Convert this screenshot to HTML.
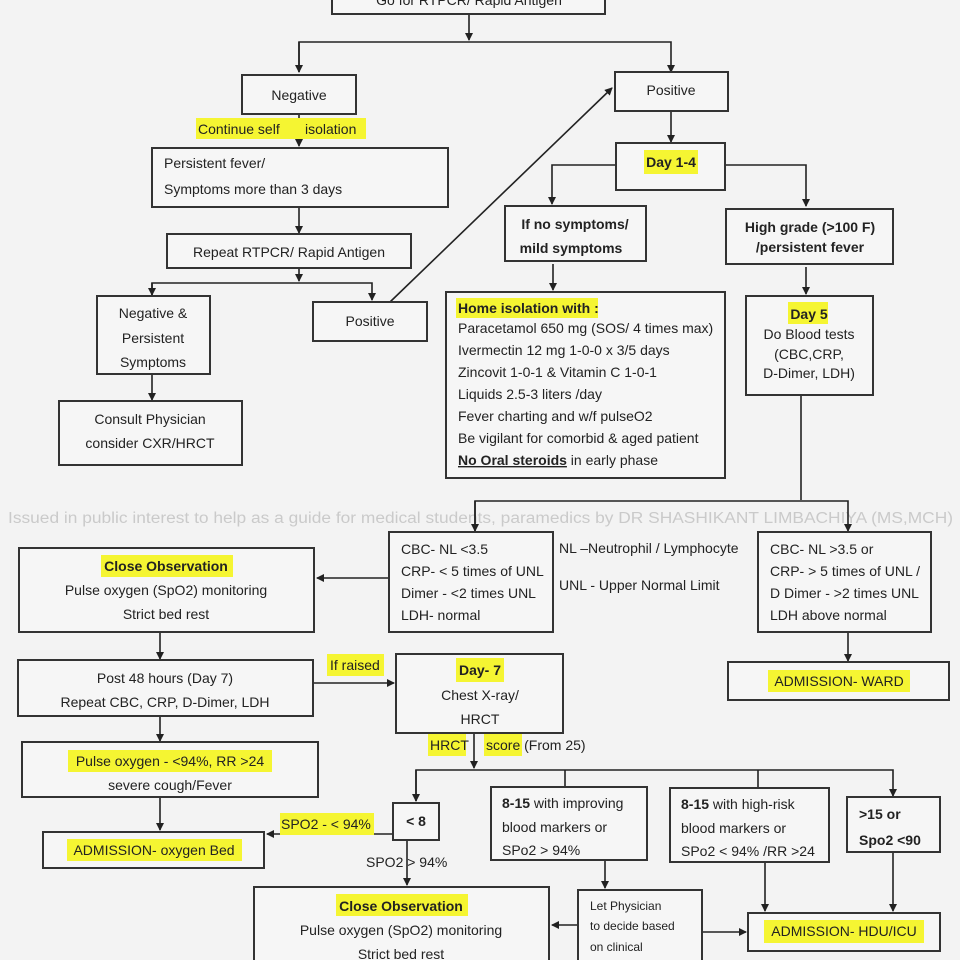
<!DOCTYPE html>
<html><head><meta charset="utf-8"><style>
html,body{margin:0;padding:0;background:#f3f3f3;}
svg{display:block;}
text{font-family:"Liberation Sans Narrow","Liberation Sans",sans-serif;font-size:14px;fill:#222;}
.b{font-weight:bold;}
rect.bx{fill:#f6f6f6;stroke:#333;stroke-width:2;}
rect.hl{fill:#f5f532;stroke:none;}
line,polyline{stroke:#222;stroke-width:1.6;fill:none;}
</style></head><body>
<svg width="960" height="960" viewBox="0 0 960 960" xmlns="http://www.w3.org/2000/svg">
<defs><marker id="a" markerWidth="8" markerHeight="8" refX="7" refY="4" orient="auto" markerUnits="userSpaceOnUse"><path d="M0,0 L8,4 L0,8 z" fill="#222"/></marker></defs>
<rect width="960" height="960" fill="#f3f3f3"/>
<text x="8" y="523" textLength="945" lengthAdjust="spacingAndGlyphs" style="font-size:15.5px;fill:#cacaca">Issued in public interest to help as a guide for medical students, paramedics by DR SHASHIKANT LIMBACHIYA (MS,MCH)</text>

<!-- connectors -->
<line x1="469" y1="14" x2="469" y2="40" marker-end="url(#a)"/>
<polyline points="299,72 299,42 671,42 671,72" marker-end="url(#a)"/>
<line x1="299" y1="42" x2="299" y2="72" marker-end="url(#a)"/>
<line x1="299" y1="114" x2="299" y2="146" marker-end="url(#a)"/>
<line x1="299" y1="207" x2="299" y2="233" marker-end="url(#a)"/>
<line x1="299" y1="268" x2="299" y2="281" marker-end="url(#a)"/>
<polyline points="152,295 152,283 372,283 372,300" marker-end="url(#a)"/>
<line x1="152" y1="283" x2="152" y2="295" marker-end="url(#a)"/>
<line x1="152" y1="374" x2="152" y2="400" marker-end="url(#a)"/>
<line x1="390" y1="302" x2="612" y2="88" marker-end="url(#a)"/>
<line x1="671" y1="111" x2="671" y2="142" marker-end="url(#a)"/>
<polyline points="616,165 552,165 552,204" marker-end="url(#a)"/>
<polyline points="725,165 806,165 806,206" marker-end="url(#a)"/>
<line x1="553" y1="264" x2="553" y2="290" marker-end="url(#a)"/>
<line x1="806" y1="267" x2="806" y2="294" marker-end="url(#a)"/>
<line x1="801" y1="395" x2="801" y2="500"/>
<polyline points="475,531 475,501 848,501 848,531" marker-end="url(#a)"/>
<line x1="475" y1="501" x2="475" y2="531" marker-end="url(#a)"/>
<line x1="848" y1="632" x2="848" y2="661" marker-end="url(#a)"/>
<line x1="389" y1="578" x2="317" y2="578" marker-end="url(#a)"/>
<line x1="160" y1="632" x2="160" y2="659" marker-end="url(#a)"/>
<line x1="313" y1="683" x2="394" y2="683" marker-end="url(#a)"/>
<line x1="160" y1="716" x2="160" y2="741" marker-end="url(#a)"/>
<line x1="474" y1="733" x2="474" y2="768" marker-end="url(#a)"/>
<polyline points="416,801 416,770 893,770 893,796" marker-end="url(#a)"/>
<line x1="416" y1="770" x2="416" y2="801" marker-end="url(#a)"/>
<line x1="565" y1="770" x2="565" y2="787"/>
<line x1="758" y1="770" x2="758" y2="788"/>
<line x1="160" y1="797" x2="160" y2="830" marker-end="url(#a)"/>
<line x1="393" y1="834" x2="267" y2="834" marker-end="url(#a)"/>
<line x1="407" y1="840" x2="407" y2="885" marker-end="url(#a)"/>
<line x1="605" y1="860" x2="605" y2="888" marker-end="url(#a)"/>
<line x1="578" y1="925" x2="552" y2="925" marker-end="url(#a)"/>
<line x1="702" y1="932" x2="746" y2="932" marker-end="url(#a)"/>
<line x1="765" y1="862" x2="765" y2="911" marker-end="url(#a)"/>
<line x1="893" y1="852" x2="893" y2="911" marker-end="url(#a)"/>

<!-- boxes -->
<rect class="bx" x="332" y="-10" width="273" height="24"/>
<text x="469" y="5" text-anchor="middle">Go for RTPCR/ Rapid Antigen</text>
<rect class="bx" x="242" y="75" width="114" height="39"/>
<text x="299" y="100" text-anchor="middle">Negative</text>
<rect class="hl" x="196" y="118" width="170" height="21"/>
<text x="198" y="134">Continue self</text><text x="305" y="134">isolation</text>
<rect class="bx" x="152" y="148" width="296" height="59"/>
<text x="164" y="168">Persistent fever/</text>
<text x="164" y="194">Symptoms more than 3 days</text>
<rect class="bx" x="167" y="234" width="244" height="34"/>
<text x="289" y="257" text-anchor="middle">Repeat RTPCR/ Rapid Antigen</text>
<rect class="bx" x="97" y="296" width="113" height="78"/>
<text x="153" y="318" text-anchor="middle">Negative &amp;</text>
<text x="153" y="343" text-anchor="middle">Persistent</text>
<text x="153" y="367" text-anchor="middle">Symptoms</text>
<rect class="bx" x="59" y="401" width="183" height="64"/>
<text x="150" y="424" text-anchor="middle">Consult Physician</text>
<text x="150" y="448" text-anchor="middle">consider CXR/HRCT</text>
<rect class="bx" x="313" y="302" width="114" height="39"/>
<text x="370" y="326" text-anchor="middle">Positive</text>
<rect class="bx" x="615" y="72" width="113" height="39"/>
<text x="671" y="95" text-anchor="middle">Positive</text>
<rect class="bx" x="616" y="143" width="109" height="47"/>
<rect class="hl" x="644" y="150" width="54" height="24"/>
<text x="671" y="167" text-anchor="middle" class="b">Day 1-4</text>
<rect class="bx" x="505" y="206" width="141" height="55"/>
<text x="575" y="229" text-anchor="middle" class="b">If no symptoms/</text>
<text x="571" y="253" text-anchor="middle" class="b">mild symptoms</text>
<rect class="bx" x="726" y="209" width="167" height="55"/>
<text x="810" y="232" text-anchor="middle" class="b">High grade (&gt;100 F)</text>
<text x="810" y="252" text-anchor="middle" class="b">/persistent fever</text>
<rect class="bx" x="446" y="292" width="279" height="186"/>
<rect class="hl" x="456" y="298" width="142" height="20"/>
<text x="458" y="313" class="b">Home isolation with :</text>
<text x="458" y="333">Paracetamol 650 mg (SOS/ 4 times max)</text>
<text x="458" y="355">Ivermectin 12 mg 1-0-0 x 3/5 days</text>
<text x="458" y="377">Zincovit 1-0-1 &amp; Vitamin C 1-0-1</text>
<text x="458" y="399">Liquids 2.5-3 liters /day</text>
<text x="458" y="421">Fever charting and w/f  pulseO2</text>
<text x="458" y="443">Be vigilant for comorbid &amp; aged patient</text>
<text x="458" y="465"><tspan class="b" text-decoration="underline">No Oral steroids</tspan> in early phase</text>
<rect class="bx" x="746" y="296" width="127" height="99"/>
<rect class="hl" x="788" y="302" width="40" height="22"/>
<text x="809" y="319" text-anchor="middle" class="b">Day 5</text>
<text x="809" y="339" text-anchor="middle">Do Blood tests</text>
<text x="809" y="359" text-anchor="middle">(CBC,CRP,</text>
<text x="809" y="378" text-anchor="middle">D-Dimer, LDH)</text>

<rect class="bx" x="389" y="532" width="164" height="100"/>
<text x="401" y="554">CBC-  NL &lt;3.5</text>
<text x="401" y="576">CRP- &lt; 5 times of UNL</text>
<text x="401" y="598">Dimer - &lt;2 times UNL</text>
<text x="401" y="620">LDH- normal</text>
<text x="559" y="553">NL –Neutrophil / Lymphocyte</text>
<text x="559" y="590">UNL - Upper Normal Limit</text>
<rect class="bx" x="758" y="532" width="173" height="100"/>
<text x="770" y="554">CBC- NL &gt;3.5 or</text>
<text x="770" y="576">CRP- &gt; 5 times of UNL /</text>
<text x="770" y="598">D Dimer - &gt;2 times UNL</text>
<text x="770" y="620">LDH above normal</text>
<rect class="bx" x="728" y="662" width="221" height="38"/>
<rect class="hl" x="768" y="670" width="142" height="22"/>
<text x="839" y="686" text-anchor="middle">ADMISSION- WARD</text>

<rect class="bx" x="19" y="548" width="295" height="84"/>
<rect class="hl" x="101" y="555" width="132" height="22"/>
<text x="166" y="571" text-anchor="middle" class="b">Close Observation</text>
<text x="166" y="595" text-anchor="middle">Pulse oxygen (SpO2) monitoring</text>
<text x="166" y="619" text-anchor="middle">Strict bed rest</text>
<rect class="bx" x="18" y="660" width="295" height="56"/>
<text x="165" y="683" text-anchor="middle">Post 48 hours (Day 7)</text>
<text x="165" y="707" text-anchor="middle">Repeat CBC, CRP, D-Dimer, LDH</text>
<rect class="hl" x="327" y="654" width="57" height="22"/>
<text x="330" y="670">If raised</text>
<rect class="bx" x="396" y="654" width="167" height="79"/>
<rect class="hl" x="456" y="658" width="48" height="24"/>
<text x="480" y="675" text-anchor="middle" class="b">Day- 7</text>
<text x="480" y="700" text-anchor="middle">Chest X-ray/</text>
<text x="480" y="724" text-anchor="middle">HRCT</text>
<rect class="hl" x="428" y="734" width="38" height="22"/>
<rect class="hl" x="484" y="734" width="38" height="22"/>
<text x="430" y="750">HRCT</text><text x="486" y="750">score (From 25)</text>

<rect class="bx" x="22" y="742" width="296" height="55"/>
<rect class="hl" x="68" y="750" width="204" height="22"/>
<text x="170" y="766" text-anchor="middle">Pulse oxygen - &lt;94%, RR &gt;24</text>
<text x="170" y="790" text-anchor="middle">severe cough/Fever</text>
<rect class="bx" x="43" y="832" width="221" height="36"/>
<rect class="hl" x="67" y="839" width="175" height="22"/>
<text x="154" y="855" text-anchor="middle">ADMISSION- oxygen Bed</text>
<rect class="hl" x="280" y="813" width="94" height="22"/>
<text x="281" y="829">SPO2 - &lt; 94%</text>
<text x="366" y="867">SPO2  &gt; 94%</text>
<rect class="bx" x="393" y="803" width="46" height="37"/>
<text x="416" y="826" text-anchor="middle" class="b">&lt; 8</text>
<rect class="bx" x="491" y="787" width="156" height="73"/>
<text x="502" y="808"><tspan class="b">8-15</tspan> with improving</text>
<text x="502" y="832">blood markers or</text>
<text x="502" y="855">SPo2 &gt; 94%</text>
<rect class="bx" x="670" y="788" width="159" height="74"/>
<text x="681" y="809"><tspan class="b">8-15</tspan> with high-risk</text>
<text x="681" y="833">blood markers or</text>
<text x="681" y="856">SPo2 &lt; 94% /RR &gt;24</text>
<rect class="bx" x="847" y="797" width="93" height="55"/>
<text x="859" y="819" class="b">&gt;15 or</text>
<text x="859" y="845" class="b">Spo2 &lt;90</text>
<rect class="bx" x="254" y="887" width="295" height="80"/>
<rect class="hl" x="336" y="894" width="132" height="22"/>
<text x="401" y="911" text-anchor="middle" class="b">Close Observation</text>
<text x="401" y="935" text-anchor="middle">Pulse oxygen (SpO2) monitoring</text>
<text x="401" y="959" text-anchor="middle">Strict bed rest</text>
<rect class="bx" x="578" y="890" width="124" height="80"/>
<text x="590" y="910" style="font-size:12px">Let Physician</text>
<text x="590" y="930" style="font-size:12px">to decide based</text>
<text x="590" y="951" style="font-size:12px">on clinical</text>
<rect class="bx" x="748" y="913" width="192" height="38"/>
<rect class="hl" x="764" y="920" width="160" height="23"/>
<text x="844" y="936" text-anchor="middle">ADMISSION- HDU/ICU</text>
</svg>
</body></html>
